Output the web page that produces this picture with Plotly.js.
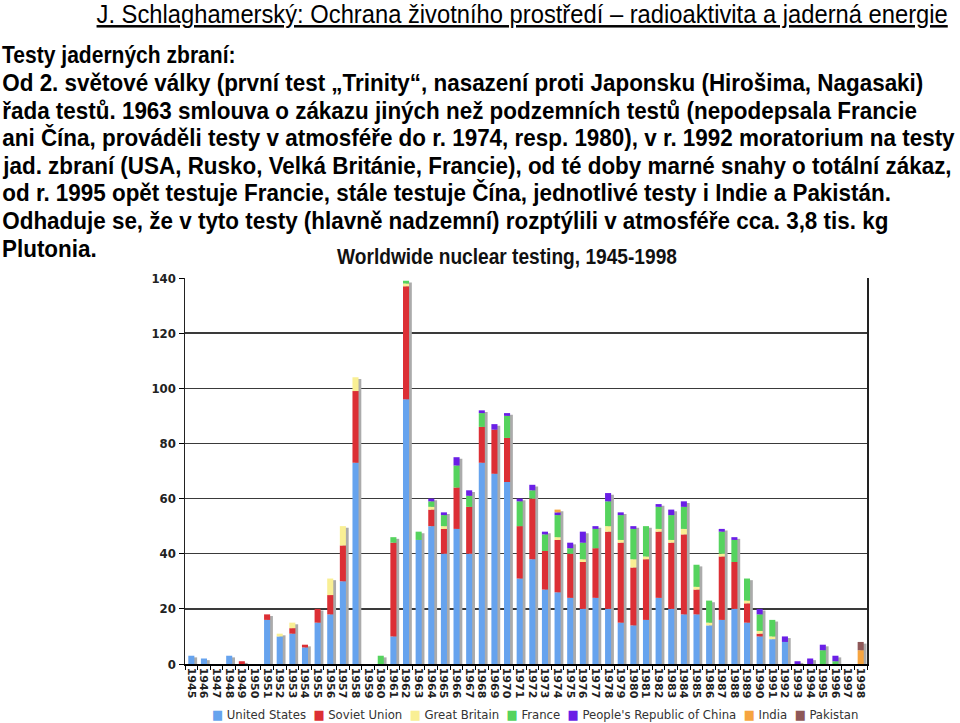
<!DOCTYPE html>
<html><head><meta charset="utf-8">
<script src="https://cdn.plot.ly/plotly-3.0.1.min.js"></script>
<style>html,body{margin:0;padding:0;background:#fff}#chart{width:960px;height:723px}</style>
</head><body><div id="chart"></div>
<script>
// ---- data (tests per year) ----
const years = ["1945","1946","1947","1948","1949","1950","1951","1952","1953","1954",
  "1955","1956","1957","1958","1959","1960","1961","1962","1963","1964",
  "1965","1966","1967","1968","1969","1970","1971","1972","1973","1974",
  "1975","1976","1977","1978","1979","1980","1981","1982","1983","1984",
  "1985","1986","1987","1988","1989","1990","1991","1992","1993","1994",
  "1995","1996","1997","1998"];
const unitedStates = [3,2,0,3,0,0,16,10,11,6, 15,18,30,73,0,0,10,96,45,50, 40,49,40,73,69,66,31,38,27,26, 24,20,24,20,15,14,16,24,20,18, 18,14,16,20,15,10,9,8,0,0, 0,0,0,0];
const sovietUnion  = [0,0,0,0,1,0,2,0,2,1, 5,7,13,26,0,0,34,41,0,6, 9,15,17,13,16,16,19,22,14,19, 16,17,18,28,29,21,22,24,24,29, 9,0,23,17,7,1,0,0,0,0, 0,0,0,0];
const greatBritain = [0,0,0,0,0,0,0,1,2,0, 0,6,7,5,0,0,0,1,0,1, 1,0,0,0,0,0,0,0,0,1, 0,1,0,2,1,3,1,1,1,2, 1,1,1,0,1,1,1,0,0,0, 0,0,0,0];
const france       = [0,0,0,0,0,0,0,0,0,0, 0,0,0,0,0,3,2,1,3,2, 4,8,4,5,0,8,9,3,6,8, 2,6,7,9,9,11,11,8,9,8, 8,8,8,8,8,6,6,0,0,0, 5,1,0,0];
const china        = [0,0,0,0,0,0,0,0,0,0, 0,0,0,0,0,0,0,0,0,1, 1,3,2,1,2,1,1,2,1,1, 2,4,1,3,1,1,0,1,2,2, 0,0,1,1,0,2,0,2,1,2, 2,2,0,0];
const india        = [0,0,0,0,0,0,0,0,0,0, 0,0,0,0,0,0,0,0,0,0, 0,0,0,0,0,0,0,0,0,1, 0,0,0,0,0,0,0,0,0,0, 0,0,0,0,0,0,0,0,0,0, 0,0,0,5];
const pakistan     = [0,0,0,0,0,0,0,0,0,0, 0,0,0,0,0,0,0,0,0,0, 0,0,0,0,0,0,0,0,0,0, 0,0,0,0,0,0,0,0,0,0, 0,0,0,0,0,0,0,0,0,0, 0,0,0,3];
const seriesNames  = ["United States","Soviet Union","Great Britain","France","People's Republic of China","India","Pakistan"];
const yTicks = [0,20,40,60,80,100,120,140];

// ---- styling ----
const colors = ["#66a3ee","#dc2f35","#f9ef94","#55d35e","#6a1fe6","#f6a43f","#8e5858"];
const series = [unitedStates, sovietUnion, greatBritain, france, china, india, pakistan];
const L = 185, R = 93, T = 278, B = 59, FW = 960, FH = 723;
const PW = FW - L - R, PH = FH - T - B;
const px = x => (x - L) / PW;
const py = y => (T + PH - y) / PH;
const bw = 0.48;

// build stacked bases
const totals = years.map((_, i) => series.reduce((s, a) => s + a[i], 0));
const traces = [{
  type: "bar", x: years, y: totals, base: -0.6, width: bw, offset: -bw / 2 + 0.22,
  marker: {color: "#ababab"}, hoverinfo: "skip", showlegend: false, name: "shadow"
}];
const running = years.map(() => 0);
series.forEach((vals, k) => {
  traces.push({
    type: "bar", name: seriesNames[k], x: years, y: vals, base: running.slice(),
    width: bw, marker: {color: colors[k]}, showlegend: false
  });
  vals.forEach((v, i) => running[i] += v);
});

const sans = "Liberation Sans, Arial, Helvetica, sans-serif";
const paraLines = [
  "Od 2. světové války (první test „Trinity“, nasazení proti Japonsku (Hirošima, Nagasaki)",
  "řada testů. 1963 smlouva o zákazu jiných než podzemních testů (nepodepsala Francie",
  "ani Čína, prováděli testy v atmosféře do r. 1974, resp. 1980), v r. 1992 moratorium na testy",
  "jad. zbraní (USA, Rusko, Velká Británie, Francie), od té doby marné snahy o totální zákaz,",
  "od r. 1995 opět testuje Francie, stále testuje Čína, jednotlivé testy i Indie a Pakistán.",
  "Odhaduje se, že v tyto testy (hlavně nadzemní) rozptýlili v atmosféře cca. 3,8 tis. kg",
  "Plutonia."
];
// horizontal squeeze of each slide text (the slide is slightly condensed)
const squeezeBy = [0.95, 0.877];
const annotations = [
  {text: "J. Schlaghamerský: Ochrana životního prostředí – radioaktivita a jaderná energie",
   x: px(522), y: py(14), xanchor: "center", yanchor: "middle",
   font: {family: sans, size: 25, color: "#000", lineposition: "under"}},
  {text: "Testy jaderných zbraní:", x: px(0), y: py(55), xanchor: "left", yanchor: "middle",
   font: {family: sans, size: 24, color: "#000", weight: "bold"}}
];
paraLines.forEach((t, i) => {
  annotations.push({
    text: t, x: px(0), y: py(82.5 + i * 27.6), xanchor: "left", yanchor: "middle",
    font: {family: sans, size: 24, color: "#000", weight: "bold"}
  });
  squeezeBy.push(0.935);
});
const nSlideText = annotations.length;
const legendText = seriesNames.map((n, k) =>
  `<span style="color:${colors[k]}">■</span>\u00A0${n}`).join("\u00A0\u00A0");
annotations.push({text: legendText, x: px(535), y: py(714), xanchor: "center", yanchor: "middle",
  font: {family: "DejaVu Sans Condensed, DejaVu Sans, sans-serif", size: 13, color: "#333"}});
annotations.forEach(a => { a.xref = "paper"; a.yref = "paper"; a.showarrow = false; });

const layout = {
  width: FW, height: FH, paper_bgcolor: "#fff", plot_bgcolor: "#fff",
  margin: {l: L, r: R, t: T, b: B, pad: 0},
  barmode: "overlay", showlegend: false,
  title: {text: "Worldwide nuclear testing, 1945-1998", xref: "container", yref: "container",
    x: 507 / FW, y: 1 - 256 / FH, xanchor: "center", yanchor: "middle",
    font: {family: sans, size: 22, color: "#111", weight: 700}},
  xaxis: {type: "category", categoryorder: "array", categoryarray: years,
    range: [-0.5, years.length - 0.5], tickmode: "linear", tick0: 0, dtick: 1,
    tickangle: 90, ticks: "outside", tickson: "boundaries",
    ticklen: 4, tickcolor: "#000", showline: true, linecolor: "#000", linewidth: 1.5,
    showgrid: false, zeroline: false,
    tickfont: {family: "DejaVu Sans, sans-serif", size: 11, color: "#222", weight: "bold"}},
  yaxis: {range: [0, 140], tickvals: yTicks, ticks: "outside", ticklen: 5, tickcolor: "#000",
    showline: true, linecolor: "#222", linewidth: 1.5, mirror: true,
    showgrid: true, gridcolor: "#3a3a3a", gridwidth: 1.5, zeroline: false,
    tickfont: {family: "DejaVu Sans Condensed, DejaVu Sans, sans-serif", size: 13, color: "#222", weight: "bold"}},
  annotations: annotations
};

function squeeze(textEl, anchor, s) {
  if (!textEl) return;
  const bb = textEl.getBBox();
  const ax = anchor === "left" ? bb.x : bb.x + bb.width / 2;
  const prev = textEl.getAttribute("transform") || "";
  textEl.setAttribute("transform",
    (prev + ` translate(${ax * (1 - s)},0) scale(${s},1)`).trim());
}

Plotly.newPlot("chart", traces, layout, {staticPlot: true}).then(gd => {
  gd.querySelectorAll("g.annotation").forEach(g => {
    const i = +g.getAttribute("data-index");
    if (i < nSlideText) squeeze(g.querySelector("text.annotation-text"), annotations[i].xanchor, squeezeBy[i]);
  });
  const t = gd.querySelector("text.gtitle");
  if (t) { t.style.fontWeight = "bold"; squeeze(t, "center", 0.87); }
});
</script></body></html>
